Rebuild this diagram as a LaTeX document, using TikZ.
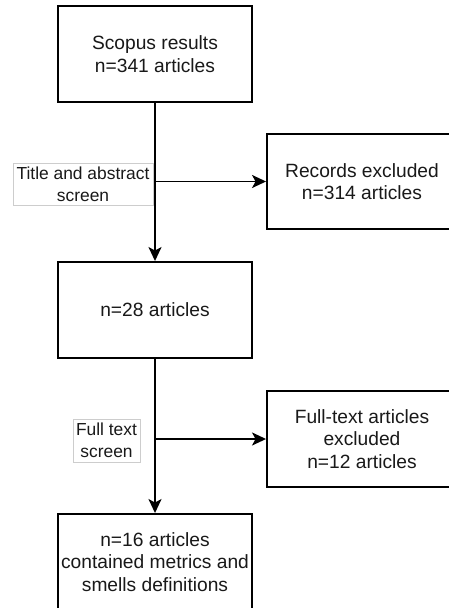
\documentclass[tikz,border=0pt]{standalone}
\usepackage{fontspec}
\setmainfont{Liberation Sans}
\usetikzlibrary{arrows.meta,calc}
\definecolor{lblborder}{RGB}{205,205,205}
\definecolor{txt}{RGB}{25,25,25}
\tikzset{
  mainbox/.style={draw=black, line width=1.9pt, fill=white, align=center, inner sep=2pt,
    text=txt, font=\fontsize{19.2}{22.6}\selectfont},
  lblbox/.style={draw=lblborder, line width=0.9pt, fill=white, align=center, inner sep=1pt,
    text=txt, font=\fontsize{17.4}{22.4}\selectfont},
  flow/.style={line width=1.9pt, -{Stealth[length=14pt, width=13pt, inset=3.5pt]}}
}
\begin{document}
\begin{tikzpicture}[x=1pt,y=-1pt]
\useasboundingbox (0,0) rectangle (448,608);
\node[mainbox, minimum width=194pt, minimum height=96pt] (scopus) at (155,54) {Scopus results\\n=341 articles};
\node[mainbox, minimum width=190pt, minimum height=95pt] (rec) at (362,181.5) {Records excluded\\n=314 articles};
\node[mainbox, minimum width=194pt, minimum height=96pt] (n28) at (155,310) {n=28 articles};
\node[mainbox, minimum width=190pt, minimum height=96pt] (ft) at (362,439) {Full-text articles\\excluded\\n=12 articles};
\node[mainbox, minimum width=194pt, minimum height=96pt] (n16) at (155,562) {n=16 articles\\contained metrics and\\smells definitions};
\coordinate (j1) at (scopus.south |- rec.west);
\coordinate (j2) at (n28.south |- ft.west);
\draw[flow] (scopus.south) -- (n28.north);
\draw[flow] (j1) -- (rec.west);
\draw[flow] (n28.south) -- (n16.north);
\draw[flow] (j2) -- (ft.west);
\node[lblbox, minimum width=140pt, minimum height=42pt] (l1) at (83,184) {Title and abstract\\screen};
\node[lblbox, minimum width=67pt, minimum height=43pt] (l2) at (106.5,440.5) {Full text\\screen};
\end{tikzpicture}
\end{document}
